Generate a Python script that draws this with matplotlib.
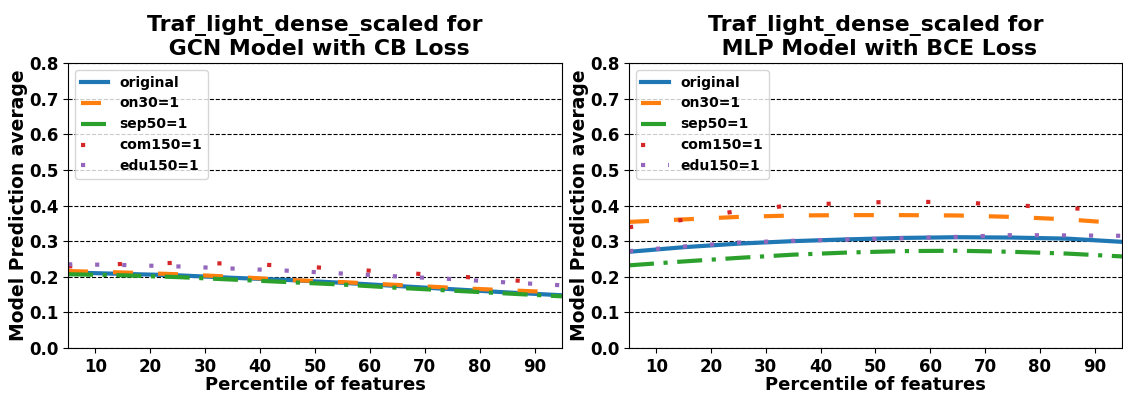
import numpy as np
import matplotlib
matplotlib.use("Agg")
import matplotlib.pyplot as plt

# percentiles
pct = [5, 15, 25, 35, 45, 55, 65, 75, 85, 95]
labels = ["original", "on30=1", "sep50=1", "com150=1", "edu150=1"]

# GCN / CB loss
gcn_original = [0.212, 0.208, 0.204, 0.197, 0.191, 0.183, 0.174, 0.165, 0.156, 0.148]
gcn_on30 = [0.216, 0.212, 0.207, 0.200, 0.191, 0.185, 0.177, 0.169, 0.162, 0.156]
gcn_sep50 = [0.207, 0.204, 0.199, 0.192, 0.185, 0.178, 0.169, 0.161, 0.153, 0.145]
gcn_com150 = [0.229, 0.236, 0.239, 0.237, 0.231, 0.222, 0.212, 0.202, 0.191, 0.181]
gcn_edu150 = [0.235, 0.233, 0.229, 0.223, 0.217, 0.209, 0.201, 0.1935, 0.184, 0.176]

# MLP / BCE loss
mlp_original = [0.270, 0.283, 0.293, 0.300, 0.305, 0.309, 0.311, 0.310, 0.307, 0.298]
mlp_on30 = [0.354, 0.361, 0.368, 0.372, 0.373, 0.373, 0.372, 0.368, 0.361, 0.350]
mlp_sep50 = [0.232, 0.243, 0.253, 0.262, 0.268, 0.272, 0.273, 0.270, 0.265, 0.257]
mlp_com150 = [0.339, 0.360, 0.385, 0.401, 0.407, 0.411, 0.409, 0.401, 0.393, 0.385]
mlp_edu150 = [0.272, 0.285, 0.296, 0.301, 0.305, 0.308, 0.312, 0.317, 0.316, 0.315]

titles = ["Traf_light_dense_scaled for\n GCN Model with CB Loss",
          "Traf_light_dense_scaled for\n MLP Model with BCE Loss"]
series = [
    [gcn_original, gcn_on30, gcn_sep50, gcn_com150, gcn_edu150],
    [mlp_original, mlp_on30, mlp_sep50, mlp_com150, mlp_edu150],
]
styles = ["-", (0, (4.8, 6)), (0, (6, 2.3, 1, 2.3)), (0, (1, 10.95)), (0, (1, 5.5))]
colors = ["C0", "C1", "C2", "C3", "C4"]

fig = plt.figure(figsize=(11.23, 3.94), dpi=100)
positions = [[0.0606, 0.1168, 0.4398, 0.7232], [0.5601, 0.1168, 0.4390, 0.7232]]

for pos, title, ys in zip(positions, titles, series):
    ax = fig.add_axes(pos)
    for y, ls, c, lab in zip(ys, styles, colors, labels):
        ax.plot(pct, y, linestyle=ls, color=c, lw=3, label=lab)
    ax.set_xlim(5, 95)
    ax.set_ylim(0, 0.8)
    ax.set_xticks(range(10, 100, 10))
    ax.set_yticks(np.arange(0, 0.81, 0.1))
    ax.set_yticklabels([f"{v:.1f}" for v in np.arange(0, 0.81, 0.1)])
    ax.grid(axis="y", color="black", linestyle="--", lw=0.8)
    ax.set_axisbelow(True)
    for t in ax.get_xticklabels() + ax.get_yticklabels():
        t.set_fontweight("bold")
        t.set_fontsize(12)
    ax.set_title(title, fontsize=15.8, fontweight="bold")
    ax.set_xlabel("Percentile of features", fontsize=13, fontweight="bold", labelpad=0)
    ax.set_ylabel("Model Prediction average", fontsize=13.5, fontweight="bold", labelpad=0.5)
    ax.legend(loc="upper left", prop={"weight": "bold", "size": 10})

fig.savefig("out.png", dpi=100)
